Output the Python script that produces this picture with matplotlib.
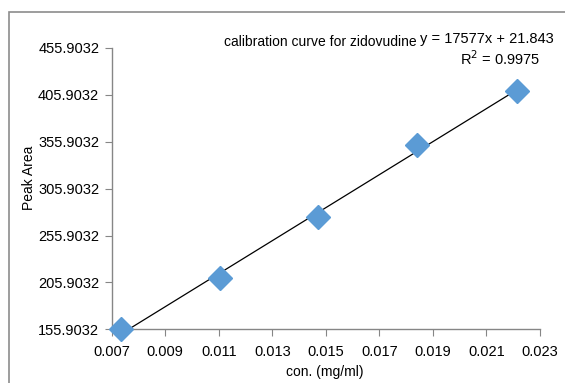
import matplotlib.pyplot as plt
import matplotlib.patches as patches
import numpy as np

# concentration (mg/ml) and peak area
conc = [0.00734, 0.01105, 0.01472, 0.01842, 0.02214]
area = [155.9, 210.3, 275.9, 352.4, 410.3]

y_ticks = [155.9032, 205.9032, 255.9032, 305.9032, 355.9032, 405.9032, 455.9032]
x_ticks = [0.007, 0.009, 0.011, 0.013, 0.015, 0.017, 0.019, 0.021, 0.023]

plt.rcParams['font.family'] = ['Liberation Sans', 'DejaVu Sans']

fig = plt.figure(figsize=(5.65, 3.83), dpi=100)
ax = fig.add_axes([0.1977, 0.1402, 0.7581, 0.7345])

# outer chart border (cropped at right/bottom)
fig.patches.append(patches.Rectangle((9 / 565, -0.1), 1.2, 1.1 - 12 / 383,
                                     transform=fig.transFigure, fill=False,
                                     edgecolor='#8c8c8c', linewidth=1.2))

# linear trendline
slope, icpt = np.polyfit(conc, area, 1)
xs = np.array([conc[0], conc[-1]])
ax.plot(xs, slope * xs + icpt, color='black', linewidth=0.9, zorder=2)

ax.plot(conc, area, linestyle='none', marker='D', markersize=12,
        color='#5b9bd5', markeredgecolor='#5b9bd5', zorder=3, clip_on=False)

ax.set_xlim(0.007, 0.023)
ax.set_ylim(155.9032, 455.9032)
ax.set_xticks(x_ticks)
ax.set_xticklabels(['%.3f' % v for v in x_ticks])
ax.set_yticks(y_ticks)
ax.set_yticklabels(['%.4f' % v for v in y_ticks])

for s in ['top', 'right']:
    ax.spines[s].set_visible(False)
for s in ['left', 'bottom']:
    ax.spines[s].set_color('#868686')
    ax.spines[s].set_linewidth(1.0)
ax.tick_params(axis='both', direction='out', length=5, color='#868686',
               labelsize=10.5, pad=4)
ax.tick_params(axis='x', pad=6)

fig.text(325 / 565, 1 - 372 / 383, 'con. (mg/ml)', ha='center', va='center', fontsize=10)
fig.text(29 / 565, 1 - 178 / 383, 'Peak Area', ha='center', va='center',
         rotation=90, fontsize=10)

fig.text(224 / 565, 1 - 42 / 383, 'calibration curve for zidovudine', ha='left',
         va='center', fontsize=10)
fig.text(420 / 565, 1 - 39 / 383, 'y = 17577x + 21.843', ha='left',
         va='center', fontsize=10.5)
fig.text(500 / 565, 1 - 59 / 383, 'R$^2$ = 0.9975', ha='center',
         va='center', fontsize=10.5)

fig.savefig('out.png', dpi=100)
